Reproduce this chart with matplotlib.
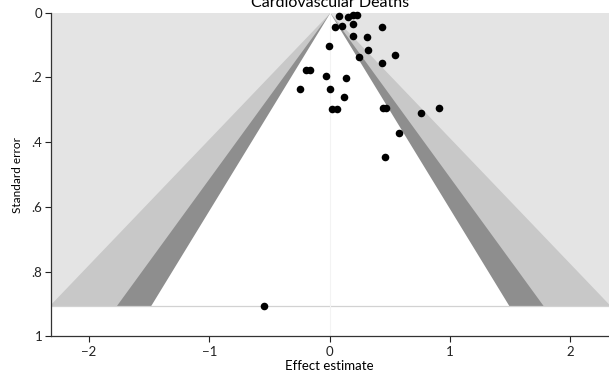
import matplotlib
matplotlib.use("Agg")
import matplotlib.pyplot as plt
import numpy as np
from matplotlib.ticker import FuncFormatter

# study estimates (log effect) and their standard errors
EFFECT = [0.079, 0.148, 0.196, 0.223, 0.043, 0.098, 0.196, 0.435, 0.196, 0.308,
          -0.010, 0.315, 0.240, 0.545, 0.435, -0.196, -0.165, -0.032, 0.135, -0.248,
          0.002, 0.117, 0.021, 0.057, 0.440, 0.468, 0.754, 0.906, 0.579, 0.456,
          -0.545]
STDERR = [0.009, 0.015, 0.006, 0.008, 0.043, 0.041, 0.035, 0.044, 0.072, 0.074,
          0.103, 0.115, 0.138, 0.131, 0.156, 0.177, 0.176, 0.196, 0.201, 0.237,
          0.237, 0.260, 0.299, 0.299, 0.294, 0.294, 0.311, 0.296, 0.373, 0.445,
          0.907]

# contour levels: 10%, 5%, 1% two-sided
Z_LEVELS = [2.576, 1.960, 1.645]
SHADES = ["#c8c8c8", "#8e8e8e", "#ffffff"]
OUTER = "#e4e4e4"

X_TICKS = [-2, -1, 0, 1, 2]
Y_TICKS = [0, 0.2, 0.4, 0.6, 0.8, 1.0]

plt.rcParams["font.family"] = ["Lato", "DejaVu Sans"]

fig = plt.figure(figsize=(6.09, 3.75), dpi=100)
ax = fig.add_axes([0.083, 0.1027, 0.917, 0.8636])

se_max = max(STDERR)
se = np.array([0.0, se_max])

ax.axhspan(0, se_max, color=OUTER, lw=0, zorder=0)
for z, col in zip(Z_LEVELS, SHADES):
    ax.fill_betweenx(se, -z * se, z * se, color=col, lw=0, zorder=1)
ax.axhline(se_max, color="#d2d2d2", lw=0.9, zorder=2)
ax.axvline(0, color="#f3f3f3", lw=0.8, zorder=2)

ax.scatter(EFFECT, STDERR, s=30, color="black", lw=0, zorder=5, clip_on=False)

ax.set_xlim(-2.32, 2.32)
ax.set_ylim(1, 0)
ax.set_xticks(X_TICKS)
ax.set_yticks(Y_TICKS)
ax.yaxis.set_major_formatter(FuncFormatter(lambda v, p: "0" if v == 0 else ("1" if v == 1 else f"{v:.1f}".lstrip("0"))))
ax.xaxis.set_major_formatter(FuncFormatter(lambda v, p: f"{int(v)}".replace("-", "\u2212")))
ax.tick_params(axis="both", direction="out", length=4, width=0.8, labelsize=9.5, colors="#222222")
ax.tick_params(axis="y", pad=2)
ax.tick_params(axis="x", pad=3)

for side in ["top", "right"]:
    ax.spines[side].set_visible(False)
for side in ["left", "bottom"]:
    ax.spines[side].set_color("#333333")
    ax.spines[side].set_linewidth(0.9)

ax.set_xlabel("Effect estimate", fontsize=9.5, labelpad=1)
ax.set_ylabel("Standard error", fontsize=8.5, labelpad=6)
fig.text(0.542, 0.982, "Cardiovascular Deaths", ha="center", va="baseline", fontsize=11.5)

fig.savefig("out.png", dpi=100)
